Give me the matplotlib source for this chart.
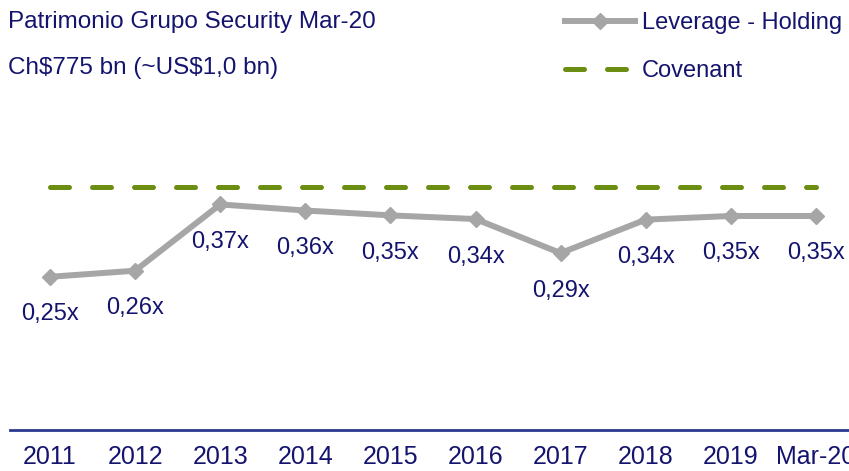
import matplotlib.pyplot as plt

# data
periods = ["2011", "2012", "2013", "2014", "2015", "2016", "2017", "2018", "2019", "Mar-20"]
leverage = [0.252, 0.262, 0.371, 0.361, 0.353, 0.347, 0.291, 0.346, 0.352, 0.352]
leverage_labels = ["0,25x", "0,26x", "0,37x", "0,36x", "0,35x", "0,34x", "0,29x", "0,34x", "0,35x", "0,35x"]
covenant = [0.40] * len(periods)

navy = "#14146e"
gray = "#a6a6a6"
green = "#6b8e12"
font = ["Liberation Sans", "DejaVu Sans"]

fig = plt.figure(figsize=(8.49, 4.71), dpi=100)
ax = fig.add_axes([0, 41 / 471, 1, 430 / 471])

x = list(range(len(periods)))
ax.plot(x, covenant, color=green, lw=3.6, dashes=(3.8, 4.6),
        dash_capstyle="round", label="Covenant", zorder=2)
ax.plot(x, leverage, color=gray, lw=4.3, marker="D", markersize=8,
        label="Leverage - Holding", zorder=3)

for xi, yi, lab in zip(x, leverage, leverage_labels):
    ax.annotate(lab, (xi, yi), xytext=(0, -27), textcoords="offset points",
                ha="center", va="center", fontsize=17, color=navy, family=font)

x0 = -50 / 85.1
ax.set_xlim(x0, x0 + 849 / 85.1)
ax.set_ylim(0, 430 / 608)

for s in ["top", "right", "left"]:
    ax.spines[s].set_visible(False)
ax.spines["bottom"].set_color("#2b3990")
ax.spines["bottom"].set_linewidth(2)
ax.spines["bottom"].set_bounds(-0.47, x0 + 849 / 85.1)
ax.set_yticks([])
ax.set_xticks(x)
ax.set_xticklabels(periods, family=font, fontsize=18, color=navy)
ax.tick_params(axis="x", length=0, pad=11)

fig.text(8 / 849, 1 - 22 / 471, "Patrimonio Grupo Security Mar-20", family=font,
         fontsize=17.5, color=navy, va="center", ha="left")
fig.text(8 / 849, 1 - 68 / 471, r"Ch\$775 bn (~US\$1,0 bn)", family=font,
         fontsize=17.5, color=navy, va="center", ha="left")

handles, labels = ax.get_legend_handles_labels()
leg = fig.legend(handles[::-1], labels[::-1], loc="upper left",
                 bbox_to_anchor=(565 / 849, 1 - 12 / 471), frameon=False,
                 prop={"family": font, "size": 17}, labelcolor=navy,
                 handlelength=2.95, handletextpad=0.3, labelspacing=1.12,
                 borderpad=0, borderaxespad=0)

fig.savefig("out.png", dpi=100)
